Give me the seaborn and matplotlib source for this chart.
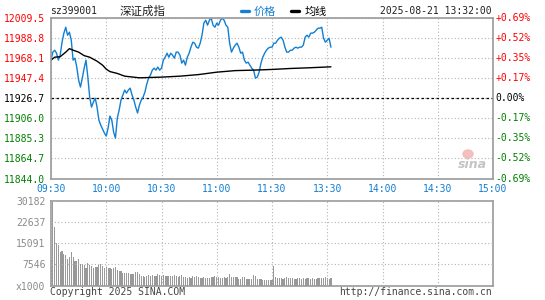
import numpy as np
import pandas as pd
import matplotlib
matplotlib.use("Agg")
import matplotlib.pyplot as plt
from matplotlib.lines import Line2D
from matplotlib.patches import Ellipse
import seaborn as sns

# ---------------- data ----------------
code = "sz399001"
name = "深证成指"
stamp = "2025-08-21 13:32:00"
prev_close = 11926.7

price = [
    11965.7, 11973.9, 11975.9, 11972.8, 11965.7, 11970.8, 11984.1, 11993.4, 11999.5, 11991.3,
    11994.4, 11986.2, 11965.7, 11967.7, 11958.5, 11945.1, 11938.0, 11947.2, 11957.4, 11965.7,
    11948.2, 11927.7, 11917.4, 11922.5, 11926.6, 11917.4, 11904.1, 11898.9, 11894.8, 11890.7,
    11887.6, 11895.8, 11908.2, 11904.1, 11891.7, 11885.6, 11906.1, 11914.3, 11924.6, 11929.7,
    11934.9, 11931.8, 11934.9, 11936.9, 11929.7, 11924.6, 11917.4, 11911.3, 11919.5, 11924.6,
    11927.7, 11932.8, 11941.0, 11947.2, 11950.3, 11955.4, 11957.4, 11955.4, 11958.5, 11955.4,
    11957.4, 11965.7, 11968.7, 11972.8, 11968.7, 11972.8, 11970.8, 11967.7, 11973.9, 11973.9,
    11970.8, 11962.6, 11965.7, 11960.5, 11968.7, 11972.8, 11979.0, 11984.1, 11983.1, 11979.0,
    11978.0, 11983.1, 11991.3, 12003.7, 12006.7, 12001.6, 12006.7, 12008.8, 12001.6, 11999.5,
    12003.7, 12001.6, 12006.7, 12008.8, 12006.7, 12001.6, 11999.5, 11983.1, 11973.9, 11978.0,
    11981.1, 11983.1, 11979.0, 11972.8, 11973.9, 11965.7, 11962.6, 11963.6, 11960.5, 11957.4,
    11955.4, 11947.2, 11948.2, 11953.3, 11962.6, 11968.7, 11972.8, 11975.9, 11978.0, 11979.0,
    11979.0, 11983.1, 11983.1, 11986.2, 11988.2, 11989.3, 11986.2, 11979.0, 11973.9, 11973.9,
    11975.9, 11975.9, 11978.0, 11979.0, 11978.0, 11979.0, 11979.0, 11981.1, 11989.3, 11991.3,
    11989.3, 11993.4, 11993.4, 11994.4, 11996.5, 11998.5, 11998.5, 11999.5, 11988.2, 11984.1,
    11986.2, 11988.2, 11979.0,
]

avg_minute = [0, 2, 5, 8, 10, 12, 15, 18, 21, 25, 28, 30, 32, 36, 40, 48, 60, 70, 80, 90,
              100, 110, 120, 130, 140, 152]
avg_price = [11965.7, 11968.7, 11969.2, 11973.9, 11977.5, 11975.9, 11973.9, 11970.3, 11968.7,
             11964.6, 11960.5, 11956.4, 11953.9, 11952.0, 11949.2, 11947.5, 11948.2, 11949.2,
             11950.8, 11953.3, 11954.9, 11955.4, 11956.1, 11957.1, 11957.8, 11958.8]

volume = [
    9155, 30182, 21060, 15114, 14518, 12135, 12373, 11181, 10943, 9512,
    10347, 11896, 10347, 8797, 8797, 9512, 7605, 7605, 7367, 6175,
    7963, 7367, 7128, 6413, 6770, 6770, 7367, 7605, 7009, 6413,
    6770, 6413, 6175, 5936, 6413, 6651, 5579, 5221, 5221, 4387,
    4387, 4387, 4387, 4029, 4029, 4029, 4744, 4744, 4029, 3433,
    3433, 3195, 3433, 3671, 3433, 3671, 3433, 3433, 4029, 3671,
    3433, 3671, 3433, 3433, 3433, 3433, 3433, 3671, 3433, 3195,
    3433, 3671, 3195, 3075, 2837, 3075, 2837, 3433, 3195, 3433,
    3075, 2599, 2599, 3075, 2837, 2837, 2837, 3075, 3075, 3433,
    3075, 3075, 2837, 2837, 3075, 2837, 3075, 4148, 3075, 3075,
    3075, 3075, 2360, 2360, 3075, 3075, 2360, 2360, 2360, 2360,
    3791, 3433, 2360, 2360, 2360, 2003, 2003, 2003, 2003, 2003,
    2003, 7009, 3075, 2599, 2599, 2599, 2360, 2599, 3075, 2599,
    2599, 2599, 2360, 2360, 2599, 2599, 2360, 2599, 2360, 2599,
    2599, 2360, 2599, 2360, 2360, 2599, 2599, 2837, 2599, 3075,
    2599, 2360, 2599,
]

minute = list(range(len(price)))

x_ticks = [0, 30, 60, 90, 120, 150, 180, 210, 240]
x_labels = ["09:30", "10:00", "10:30", "11:00", "11:30", "13:30", "14:00", "14:30", "15:00"]

p_ticks = [12009.5, 11988.8, 11968.1, 11947.4, 11926.7, 11906.0, 11885.3, 11864.7, 11844.0]
p_labels = ["12009.5", "11988.8", "11968.1", "11947.4", "11926.7", "11906.0", "11885.3",
            "11864.7", "11844.0"]
pct_labels = ["+0.69%", "+0.52%", "+0.35%", "+0.17%", "0.00%", "-0.17%", "-0.35%",
              "-0.52%", "-0.69%"]

v_ticks = [30182, 22637, 15091, 7546, 0]
v_labels = ["30182", "22637", "15091", "7546", "x1000"]

# ---------------- style ----------------
sns.set_style("white")
plt.rcParams["font.family"] = ["DejaVu Sans Mono", "Noto Sans CJK SC"]

W, H = 545, 300
fig = plt.figure(figsize=(W / 100, H / 100), dpi=100)
fig.patch.set_facecolor("white")


def fx(px):
    return px / W


def fy(py):
    return 1 - py / H


L, R = 51, 493
ax = fig.add_axes([fx(L), fy(178.5), fx(R - L), (178.5 - 17.5) / H])
axv = fig.add_axes([fx(L), fy(285.6), fx(R - L), (285.6 - 201) / H])

BLUE = "#127fd2"
RED = "#ff0000"
GREEN = "#008000"
GRID = "#b4b4b4"
SPINE = "#9a9a9a"

df = pd.DataFrame({"minute": minute, "price": price, "volume": volume})
dfa = pd.DataFrame({"minute": avg_minute, "avg": avg_price})

# price panel
sns.lineplot(data=df, x="minute", y="price", ax=ax, color=BLUE, linewidth=1.0)
sns.lineplot(data=dfa, x="minute", y="avg", ax=ax, color="black", linewidth=1.0)
ax.set_xlim(0, 240)
ax.set_ylim(min(p_ticks), max(p_ticks))
ax.set_xticks(x_ticks)
ax.set_xticklabels(x_labels)
ax.set_yticks(p_ticks)
ax.set_yticklabels(p_labels)
ax.set_xlabel("")
ax.set_ylabel("")
ax.grid(True, linestyle=(0, (1, 2)), color=GRID, linewidth=0.8)
ax.axhline(prev_close, color="black", linewidth=0.9, linestyle=(0, (2, 2)), zorder=1.5)
ax.tick_params(length=0, labelsize=7)
ax.tick_params(axis="y", pad=4)
ax.tick_params(axis="x", pad=4, colors=BLUE)
for s in ax.spines.values():
    s.set_color(SPINE)
    s.set_linewidth(1.2)


def col(value):
    if value > prev_close + 0.01:
        return RED
    if value < prev_close - 0.01:
        return GREEN
    return "black"


for t, v in zip(ax.get_yticklabels(), p_ticks):
    t.set_color(col(v))
for v, lbl in zip(p_ticks, pct_labels):
    ax.text(1.005, v, lbl, transform=ax.get_yaxis_transform(), ha="left", va="center",
            fontsize=7, color=col(v))

# volume panel
sns.barplot(data=df, x="minute", y="volume", ax=axv, native_scale=True, color="#999999",
            saturation=1, width=0.62, linewidth=0, errorbar=None)
for p in axv.patches:
    p.set_antialiased(False)
axv.set_xlim(0, 240)
axv.set_ylim(0, max(v_ticks))
axv.set_xticks(x_ticks)
axv.set_xticklabels([])
axv.set_yticks(v_ticks)
axv.set_yticklabels(v_labels)
axv.set_xlabel("")
axv.set_ylabel("")
axv.grid(True, linestyle=(0, (1, 2)), color=GRID, linewidth=0.8)
axv.set_axisbelow(False)
axv.tick_params(length=0, labelsize=7, colors="#8a8a8a", pad=4)
for s in axv.spines.values():
    s.set_color(SPINE)
    s.set_linewidth(1.2)

# header texts
fig.text(fx(50), fy(11.5), code, fontsize=7, ha="left", va="center", color="#222222")
fig.text(fx(120), fy(11.5), name, fontsize=8.3, ha="left", va="center", color="#222222",
         family=["Noto Sans CJK SC", "DejaVu Sans"])
fig.add_artist(Line2D([fx(241), fx(248.5)], [fy(11), fy(11)], color=BLUE, linewidth=2.4))
fig.text(fx(254), fy(11.5), "价格", fontsize=8, ha="left", va="center", color=BLUE,
         family=["Noto Sans CJK SC", "DejaVu Sans"])
fig.add_artist(Line2D([fx(291), fx(299)], [fy(11), fy(11)], color="black", linewidth=2.4))
fig.text(fx(305), fy(11.5), "均线", fontsize=8, ha="left", va="center", color="black",
         family=["Noto Sans CJK SC", "DejaVu Sans"])
fig.text(fx(492), fy(11.5), stamp, fontsize=7, ha="right", va="center", color="#222222")

# footer texts
fig.text(fx(50), fy(292), "Copyright 2025 SINA.COM", fontsize=7, ha="left", va="center",
         color="#444444")
fig.text(fx(492), fy(292), "http://finance.sina.com.cn", fontsize=7, ha="right",
         va="center", color="#444444")

# sina watermark
fig.add_artist(Ellipse((fx(468), fy(154)), 10 / W, 8 / H, color="#f4b8b8", alpha=0.9))
fig.text(fx(472), fy(164), "sina", fontsize=9, ha="center", va="center", color="#c4c4c4",
         style="italic", weight="bold", family="DejaVu Sans")

fig.savefig("out.png", dpi=100, facecolor="white")
